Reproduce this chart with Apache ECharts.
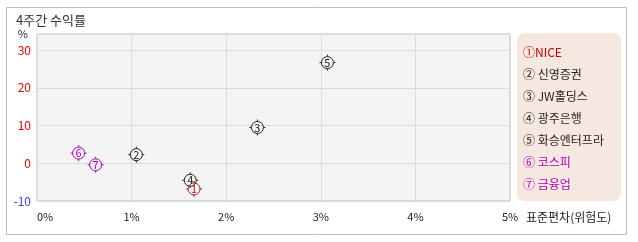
<!DOCTYPE html>
<html><head><meta charset="utf-8">
<script src="https://cdn.jsdelivr.net/npm/echarts@6/dist/echarts.min.js"></script>
<style>html,body{margin:0;padding:0;background:#fff}#c{width:638px;height:242px}</style>
</head><body><div id="c"></div>
<script>
const names = ['NICE', '신영증권', 'JW홀딩스', '광주은행', '화승엔터프라', '코스피', '금융업'];
const markers = ['①', '②', '③', '④', '⑤', '⑥', '⑦'];
const digits = ['1', '2', '3', '4', '5', '6', '7'];
const riskX = [1.66, 1.05, 2.33, 1.62, 3.07, 0.44, 0.62];
const returnY = [-6.8, 2.3, 9.5, -4.5, 26.7, 2.7, -0.4];
const xTicks = [0, 1, 2, 3, 4, 5];
const yTicks = [-10, 0, 10, 20, 30];
const xAxisTitle = '표준편차(위험도)';
const palette = ['#b81c1c', '#222222', '#222222', '#222222', '#222222', '#b000b8', '#b000b8'];
const legendPalette = ['#d00000', '#222222', '#222222', '#222222', '#222222', '#b000b8', '#b000b8'];

const FONT = '"Noto Sans CJK KR", "Noto Sans", sans-serif';
const symPath = 'path://M8 2A6 6 0 1 1 7.99 2ZM8 0L8 2M8 14L8 16M0 8L2 8M14 8L16 8';

const chart = echarts.init(document.getElementById('c'), null, {renderer: 'canvas'});
const series = names.map((n, i) => ({
  name: n,
  type: 'scatter',
  symbol: symPath,
  symbolSize: 16,
  data: [[riskX[i], returnY[i]]],
  itemStyle: {color: 'rgba(0,0,0,0)', borderColor: palette[i], borderWidth: 1, opacity: 1},
  label: {show: true, position: 'inside', formatter: digits[i], color: palette[i], fontSize: 11, fontFamily: FONT},
  emphasis: {disabled: true},
  z: 10 + i
}));

chart.setOption({
  animation: false,
  textStyle: {fontFamily: FONT},
  graphic: [
    {type: 'rect', shape: {x: 6.5, y: 7.5, width: 620, height: 227}, style: {fill: 'none', stroke: '#bdbdbd', lineWidth: 1}, z: -10},
    {type: 'rect', shape: {x: 517, y: 33, width: 104, height: 168, r: 8}, style: {fill: '#f5e8e1'}, z: -5},
    {type: 'text', x: 16, y: 20, style: {text: '4주간 수익률', fill: '#333', font: '13px ' + FONT, verticalAlign: 'middle'}},
    {type: 'text', x: 526, y: 217, style: {text: xAxisTitle, fill: '#222', font: '12px ' + FONT, verticalAlign: 'middle'}}
  ],
  grid: {left: 37, top: 34, right: 128, bottom: 41, show: true, backgroundColor: '#f4f4f4', borderColor: '#bcbcbc', borderWidth: 1},
  legend: {
    orient: 'vertical', left: 518, top: 45, itemWidth: 0, itemHeight: 14, itemGap: 9.1, icon: 'none',
    padding: 0, selectedMode: false,
    formatter: (n) => markers[names.indexOf(n)] + (n === 'NICE' ? '' : ' ') + n,
    data: names.map((n, i) => ({name: n, textStyle: {color: legendPalette[i], fontSize: 12, fontFamily: FONT}}))
  },
  xAxis: {
    type: 'value', min: xTicks[0], max: xTicks[xTicks.length - 1], interval: 1,
    axisLine: {show: false, onZero: false}, axisTick: {show: false},
    splitLine: {show: true, lineStyle: {color: '#dcdcdc'}},
    axisLabel: {formatter: (v) => v + '%', color: '#222', fontSize: 11, margin: 10, alignMinLabel: 'left'}
  },
  yAxis: {
    type: 'value', min: yTicks[0], max: 34.3, interval: 10,
    name: '%', nameLocation: 'end', nameGap: 0,
    nameTextStyle: {color: '#222', fontSize: 11, align: 'right', verticalAlign: 'middle', padding: [0, 9, 0, 0]},
    axisLine: {show: false, onZero: false}, axisTick: {show: false},
    splitLine: {show: true, lineStyle: {color: '#dcdcdc'}},
    axisLabel: {
      formatter: (v) => (yTicks.indexOf(v) >= 0 ? String(v) : ''),
      color: (v) => (Number(v) < 0 ? '#3344ee' : '#ee0000'),
      fontSize: 12, margin: 6, showMaxLabel: false
    }
  },
  series: series
});
</script></body></html>
